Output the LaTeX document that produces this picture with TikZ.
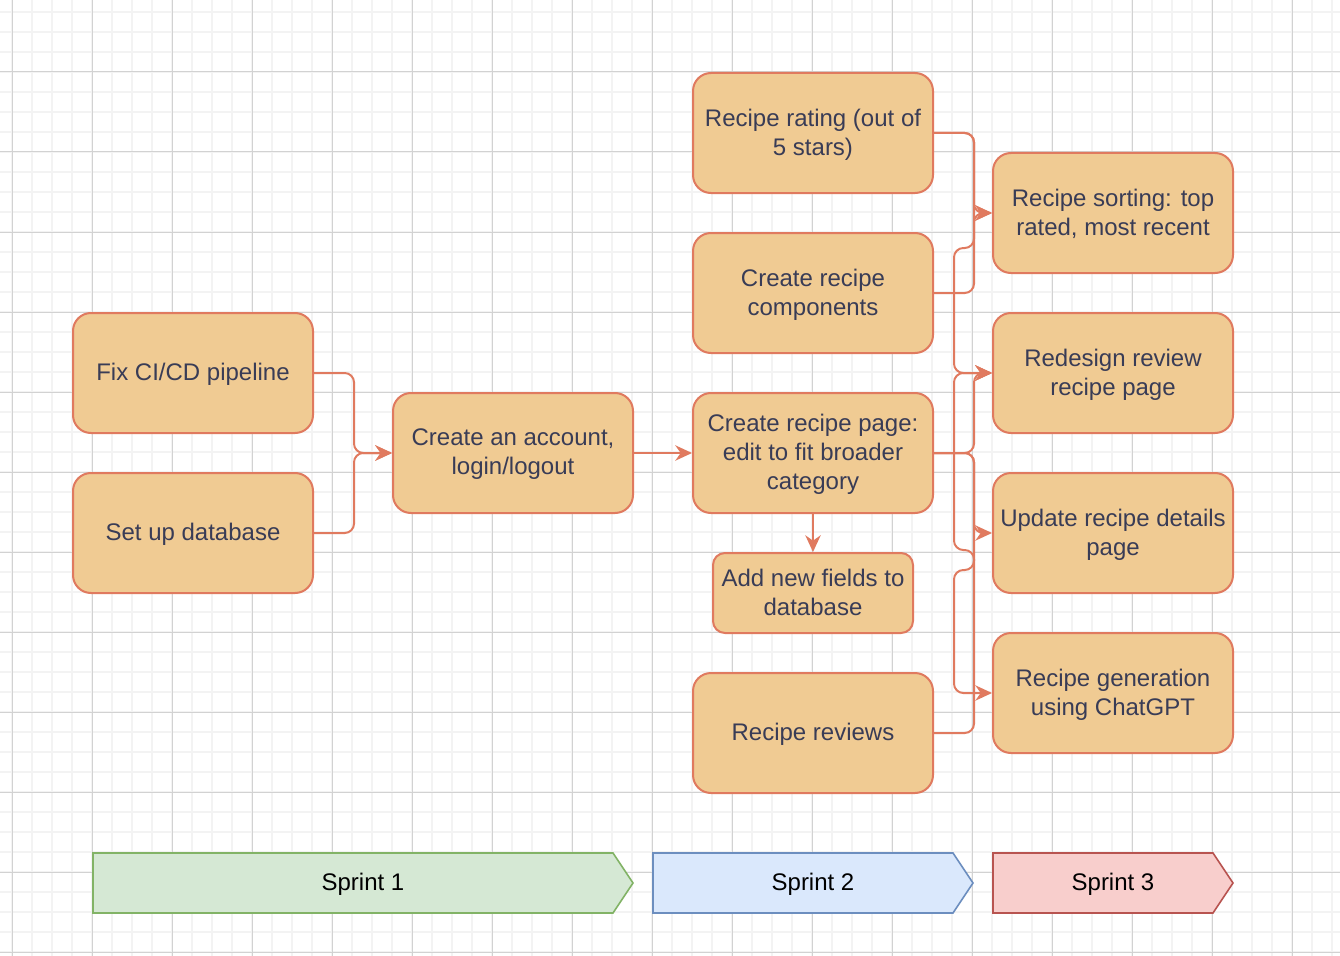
\documentclass[tikz,border=0pt]{standalone}
\usepackage{fontspec}
\setmainfont{Liberation Sans}
\usetikzlibrary{arrows.meta}
\definecolor{boxfill}{HTML}{F0CB93}
\definecolor{boxline}{HTML}{E07A5F}
\definecolor{boxtext}{HTML}{393C56}
\definecolor{gridminor}{HTML}{F3F3F3}
\definecolor{gridmajor}{HTML}{D2D2D2}
\definecolor{sOneFill}{HTML}{D5E8D4}
\definecolor{sOneLine}{HTML}{82B366}
\definecolor{sTwoFill}{HTML}{DAE8FC}
\definecolor{sTwoLine}{HTML}{6C8EBF}
\definecolor{sThreeFill}{HTML}{F8CECC}
\definecolor{sThreeLine}{HTML}{B85450}
\tikzset{
  task/.style={draw=boxline, fill=boxfill, line width=1.5pt, rounded corners=13.5pt,
    minimum width=180pt, minimum height=90pt, inner sep=2pt, align=center,
    text=boxtext, font=\fontsize{18pt}{21.75pt}\selectfont, text depth=1.5pt},
  smalltask/.style={task, minimum width=150pt, minimum height=60pt, rounded corners=9pt},
  edge/.style={draw=boxline, line width=1.5pt, rounded corners=7pt,
    -{Stealth[length=12.5pt,width=11.5pt,inset=4pt]}},
  sprintlabel/.style={font=\fontsize{18pt}{21.75pt}\selectfont, text=black, text depth=1.5pt},
}
\begin{document}
\begin{tikzpicture}[x=0.75pt,y=-0.75pt]
\useasboundingbox (0,0) rectangle (1340,956);
\fill[white] (0,0) rectangle (1340,956);
% grid
\foreach \g in {12,32,...,1332} \draw[gridminor, line width=1.1pt] (\g,0) -- (\g,956);
\foreach \g in {12,32,...,952} \draw[gridminor, line width=1.1pt] (0,\g) -- (1340,\g);
\foreach \g in {12,92,...,1292} \draw[gridmajor, line width=0.75pt] (\g,0) -- (\g,956);
\foreach \g in {72,152,...,952} \draw[gridmajor, line width=0.75pt] (0,\g) -- (1340,\g);

% nodes
\node[task] (fix) at (193,373) {Fix CI/CD pipeline};
\node[task] (db) at (193,533) {Set up database};
\node[task] (account) at (513,453) {Create an account,\\login/logout};
\node[task] (rating) at (813,133) {Recipe rating (out of\\5 stars)};
\node[task] (comp) at (813,293) {Create recipe\\components};
\node[task] (page) at (813,453) {Create recipe page:\\edit to fit broader\\category};
\node[smalltask] (fields) at (813,593) {Add new fields to\\database};
\node[task] (reviews) at (813,733) {Recipe reviews};
\node[task] (sorting) at (1113,213) {Recipe sorting: top\\rated, most recent};
\node[task] (redesign) at (1113,373) {Redesign review\\recipe page};
\node[task] (update) at (1113,533) {Update recipe details\\page};
\node[task] (gen) at (1113,693) {Recipe generation\\using ChatGPT};

% connectors
\draw[edge] (fix.east) -- ++(40,0) |- (account.west);
\draw[edge] (db.east) -- ++(40,0) |- (account.west);
\draw[edge] (account.east) -- (page.west);
\draw[edge] (page.south) -- (fields.north);
\draw[edge] (rating.east) -- ++(40,0) |- (sorting.west);
\draw[edge] (comp.east) -- ++(40,0) |- (sorting.west);
\draw[edge] (rating.east) -- ++(40,0) -- ++(0,115) -- ++(-20,0) |- (redesign.west);
\draw[edge] (page.east) -- ++(40,0) |- (redesign.west);
\draw[edge] (page.east) -- ++(40,0) |- (update.west);
\draw[edge] (reviews.east) -- ++(40,0) -- ++(0,-183) -- ++(-20,0) |- (redesign.west);
\draw[edge] (page.east) -- ++(40,0) -- ++(0,117) -- ++(-20,0) |- (gen.west);

% sprints
\draw[fill=sOneFill, draw=sOneLine, line width=1.2pt] (93,853) -- (613,853) -- (633,883) -- (613,913) -- (93,913) -- cycle;
\node[sprintlabel] (s1) at (363,883) {Sprint 1};
\draw[fill=sTwoFill, draw=sTwoLine, line width=1.2pt] (653,853) -- (953,853) -- (973,883) -- (953,913) -- (653,913) -- cycle;
\node[sprintlabel] (s2) at (813,883) {Sprint 2};
\draw[fill=sThreeFill, draw=sThreeLine, line width=1.2pt] (993,853) -- (1213,853) -- (1233,883) -- (1213,913) -- (993,913) -- cycle;
\node[sprintlabel] (s3) at (1113,883) {Sprint 3};
\end{tikzpicture}
\end{document}
